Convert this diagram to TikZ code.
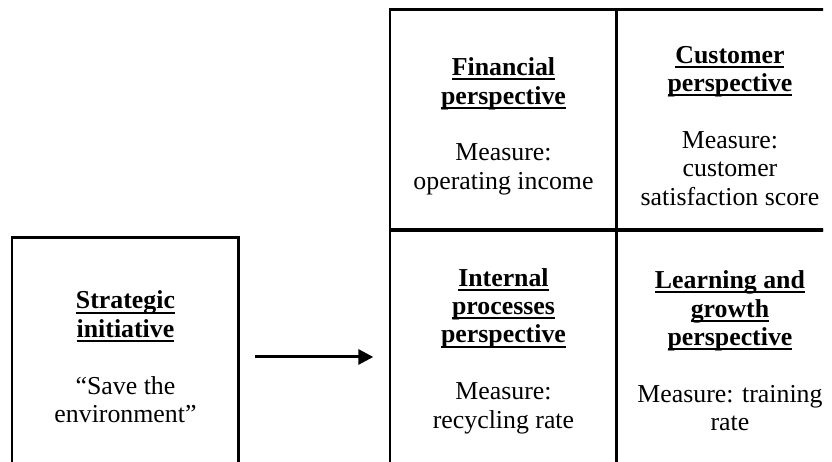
\documentclass[tikz,border=0pt]{standalone}
\usepackage{fontspec}
\setmainfont{Liberation Serif}
\usetikzlibrary{arrows.meta}
\newcommand{\ulword}[1]{\setbox0\hbox{#1}\leavevmode\rlap{\rule[-2.7pt]{\wd0}{1.1pt}}\box0}
\begin{document}
\begin{tikzpicture}[x=0.02cm,y=-0.02cm,
    cell/.style={draw,line width=1.7pt,outer sep=0pt,align=center,
        minimum width=4.54cm,anchor=north west,
        font=\fontsize{14.7}{16.2}\selectfont}]
            \useasboundingbox (0,0) rectangle (832,461);
            \clip (0,0) rectangle (823,461);
            \node[cell,minimum height=4.8cm] (strat) at (12,237) {\textbf{\ulword{Strategic}}\\\textbf{\ulword{initiative}}\\[16.2pt]``Save the\\environment''};
            \node[cell,minimum height=4.42cm] (fin) at (390,9) {\rule{0pt}{18pt}\textbf{\ulword{Financial}}\\\textbf{\ulword{perspective}}\\[16.2pt]Measure:\\operating income};
            \node[cell,minimum height=4.42cm,minimum width=4.52cm] (cust) at (617,9) {\rule{0pt}{17pt}\textbf{\ulword{Customer}}\\\textbf{\ulword{perspective}}\\[16.2pt]Measure:\\customer\\satisfaction score};
            \node[cell,minimum height=4.84cm] (intp) at (390,230) {\textbf{\ulword{Internal}}\\\textbf{\ulword{processes}}\\\textbf{\ulword{perspective}}\\[16.2pt]Measure:\\recycling rate};
            \node[cell,minimum height=4.84cm,minimum width=4.52cm] (learn) at (617,230) {\textbf{\ulword{Learning and}}\\\textbf{\ulword{growth}}\\\textbf{\ulword{perspective}}\\[16.2pt]Measure: training\\rate};
            \draw[line width=1.7pt,-{Triangle[length=8.5pt,width=8.5pt]},shorten <=9pt,shorten >=9.5pt] (strat.east) -- (strat.east -| intp.west);
        \end{tikzpicture}
\end{document}
